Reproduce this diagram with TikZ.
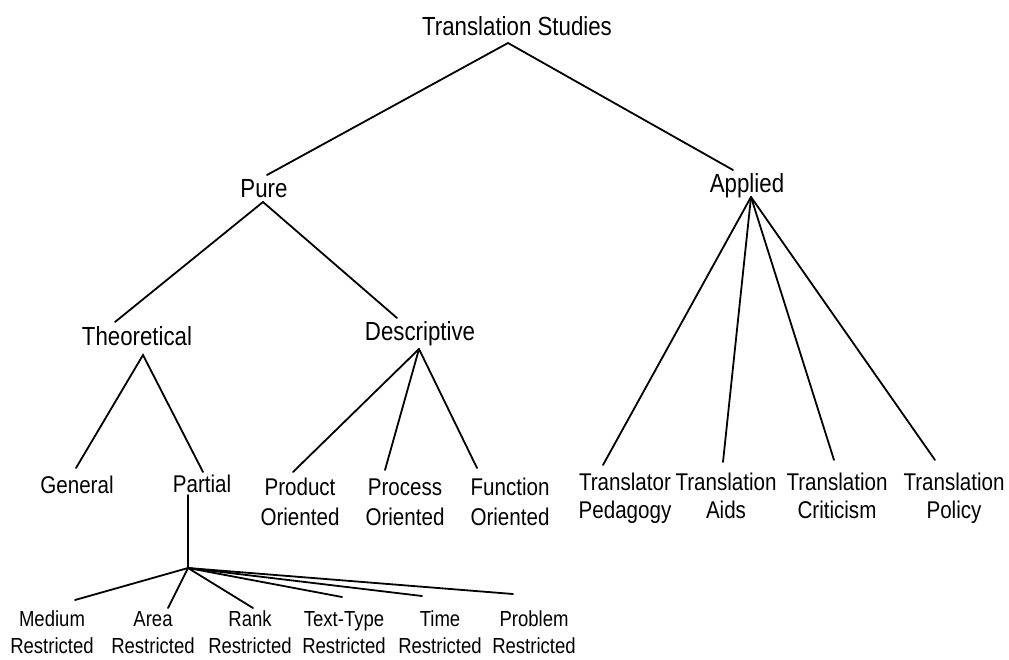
\documentclass[tikz,border=0pt]{standalone}
\usepackage{fontspec}
\setmainfont[FakeStretch=0.85]{Liberation Sans}

\begin{document}
\begin{tikzpicture}[x=1pt, y=-1pt,
    lvltop/.style={inner sep=0pt, anchor=base, font=\fontsize{26.2}{30}\selectfont},
    lvlmid/.style={inner sep=0pt, anchor=base, align=center, font=\fontsize{24.2}{30}\selectfont},
    lvlbot/.style={inner sep=0pt, anchor=base, align=center, font=\fontsize{21.8}{26.5}\selectfont},
    branch/.style={line width=1.8pt, line cap=round}]
    \useasboundingbox (0,0) rectangle (1009,659);

    % Root and first split
    \node[lvltop] (ts) at (517,35) {Translation Studies};
    \node[lvltop] (pure) at (264,197) {Pure};
    \node[lvltop] (appl) at (747,192) {Applied};
    \draw[branch] ([xshift=3pt,yshift=22pt]pure.base) -- ([xshift=-9pt,yshift=-8pt]ts.base)
        -- ([xshift=-14pt,yshift=22pt]appl.base);

    % Pure branch
    \node[lvltop] (theo) at (137,345) {Theoretical};
    \node[lvltop] (desc) at (420,340) {Descriptive};
    \draw[branch] ([xshift=-22pt,yshift=23pt]theo.base) -- ([xshift=-1pt,yshift=-5pt]pure.base)
        -- ([xshift=-23pt,yshift=22pt]desc.base);

    % Theoretical
    \node[lvlmid] (gen) at (77,493) {General};
    \node[lvlmid] (part) at (202,492) {Partial};
    \draw[branch] ([xshift=-1pt,yshift=25pt]gen.base) -- ([xshift=6pt,yshift=-10pt]theo.base)
        -- ([xshift=1pt,yshift=20pt]part.base);

    % Descriptive (base = last line)
    \node[lvlmid] (prod) at (300,525) {Product\\Oriented};
    \node[lvlmid] (proc) at (405,525) {Process\\Oriented};
    \node[lvlmid] (func) at (510,525) {Function\\Oriented};
    \foreach \kid/\dx/\dy in {prod/-7/53, proc/-20/55, func/-33/57}
        \draw[branch] ([xshift=-1pt,yshift=-9pt]desc.base) -- ([xshift=\dx pt,yshift=\dy pt]\kid.base);

    % Applied branch
    \node[lvlmid, font=\fontsize{24.2}{28}\selectfont] (ped) at (625,518) {Translator\\Pedagogy};
    \node[lvlmid, font=\fontsize{24.2}{28}\selectfont] (aids) at (726,518) {Translation\\Aids};
    \node[lvlmid, font=\fontsize{24.2}{28}\selectfont] (crit) at (837,518) {Translation\\Criticism};
    \node[lvlmid, font=\fontsize{24.2}{28}\selectfont] (pol) at (954,518) {Translation\\Policy};
    \foreach \kid/\dx/\dy in {ped/-22/53, aids/-3/56, crit/-3/58, pol/-19/58}
        \draw[branch] ([xshift=4pt,yshift=-5pt]appl.base) -- ([xshift=\dx pt,yshift=\dy pt]\kid.base);

    % Partial fan
    \coordinate (fan) at (188,568);
    \draw[branch] ([xshift=-14pt,yshift=-3pt]part.base) -- (fan);
    \node[lvlbot] (med) at (52,653) {Medium\\Restricted};
    \node[lvlbot] (area) at (153,653) {Area\\Restricted};
    \node[lvlbot] (rank) at (250,653) {Rank\\Restricted};
    \node[lvlbot] (ttype) at (344,653) {Text-Type\\Restricted};
    \node[lvlbot] (time) at (440,653) {Time\\Restricted};
    \node[lvlbot] (prob) at (534,653) {Problem\\Restricted};
    \foreach \kid/\dx/\dy in {med/23/53, area/15/45, rank/3/45, ttype/-2/56, time/-18/57, prob/-21/59}
        \draw[branch] (fan) -- ([xshift=\dx pt,yshift=\dy pt]\kid.base);
\end{tikzpicture}
\end{document}
